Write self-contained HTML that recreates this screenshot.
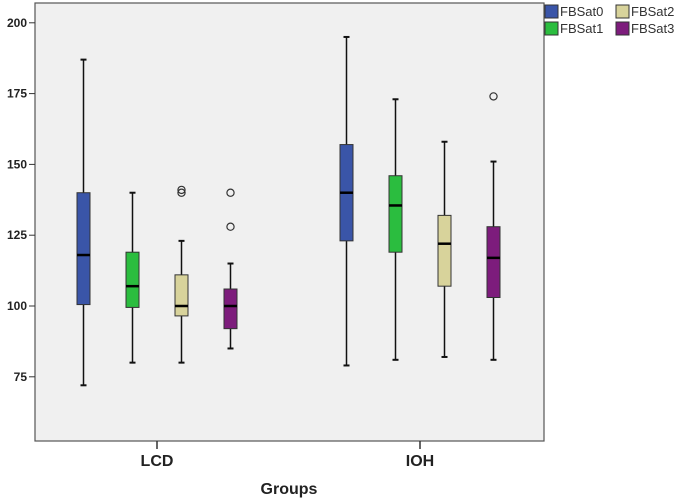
<!DOCTYPE html>
<html><head><meta charset="utf-8"><style>
html,body{margin:0;padding:0;background:#fff;}
svg{display:block;font-family:"Liberation Sans",Arial,sans-serif;}
</style></head><body>
<svg id="chart" width="685" height="498" viewBox="0 0 685 498">
<rect x="35" y="3" width="509" height="438" fill="#f0f0f0" stroke="#555" stroke-width="1.2"/>
<g id="yaxis"></g>
<g id="xaxis"></g>
<g id="boxes"></g>
<text x="289" y="494" text-anchor="middle" font-size="16" font-weight="bold" fill="#222">Groups</text>
<g>
<g><rect x="545" y="5" width="13" height="13" fill="#3a55a8" stroke="#333"/><text x="560" y="16" font-size="13" fill="#333">FBSat0</text></g>
<g><rect x="616" y="5" width="13" height="13" fill="#d8d39b" stroke="#333"/><text x="631" y="16" font-size="13" fill="#333">FBSat2</text></g>
<g><rect x="545" y="22" width="13" height="13" fill="#2bbd3f" stroke="#333"/><text x="560" y="33" font-size="13" fill="#333">FBSat1</text></g>
<g><rect x="616" y="22" width="13" height="13" fill="#7d1c7c" stroke="#333"/><text x="631" y="33" font-size="13" fill="#333">FBSat3</text></g>
</g>
</svg>
<script>
const groups = ["LCD", "IOH"];
const seriesNames = ["FBSat0", "FBSat1", "FBSat2", "FBSat3"];
const seriesColors = ["#3a55a8", "#2bbd3f", "#d8d39b", "#7d1c7c"];
const yTicks = [75, 100, 125, 150, 175, 200];
// [min, q1, median, q3, max] per group, per series
const lcdStats = [[72, 100.5, 118, 140, 187], [80, 99.5, 107, 119, 140], [80, 96.5, 100, 111, 123], [85, 92, 100, 106, 115]];
const iohStats = [[79, 123, 140, 157, 195], [81, 119, 135.5, 146, 173], [82, 107, 122, 132, 158], [81, 103, 117, 128, 151]];
const lcdOutliers = [[], [], [140, 141], [140, 128]];
const iohOutliers = [[], [], [], [174]];

const NS = "http://www.w3.org/2000/svg";
function y(v){ return 306 - (v - 100) * 2.832; }
function gx(i){ return 157 + i * 263; }
function sx(g, s){ return gx(g) + (s - 1.5) * 49; }
function mk(tag, attrs, parent){ const e = document.createElementNS(NS, tag); for (const k in attrs) e.setAttribute(k, attrs[k]); parent.appendChild(e); return e; }

const ya = document.getElementById("yaxis");
yTicks.forEach(t => {
  const ln = mk("line", {x1: 29, x2: 35, y1: y(t), y2: y(t), stroke: "#333"}, ya);
  
  
  const tx = mk("text", {x: 27, y: y(t) + 4, "text-anchor": "end", "font-size": 12, "font-weight": "bold", fill: "#222"}, ya);
  tx.textContent = t;
  
  
});
const xa = document.getElementById("xaxis");
groups.forEach((g, i) => {
  const ln = mk("line", {x1: gx(i), x2: gx(i), y1: 441, y2: 449, stroke: "#333", "stroke-width": 1.5}, xa);
  
  
  const tx = mk("text", {x: gx(i), y: 466, "text-anchor": "middle", "font-size": 16, "font-weight": "bold", fill: "#222"}, xa);
  tx.textContent = g;
  
  
});
const bx = document.getElementById("boxes");
const allStats = [lcdStats, iohStats];
const allOut = [lcdOutliers, iohOutliers];
allStats.forEach((gs, gi) => {
  gs.forEach((st, si) => {
    const cx = sx(gi, si), w = 13;
    const g = mk("g", {}, bx);
    
    
    mk("line", {x1: cx, x2: cx, y1: y(st[4]), y2: y(st[0]), stroke: "#111", "stroke-width": 1.5}, g);
    mk("line", {x1: cx - 3, x2: cx + 3, y1: y(st[4]), y2: y(st[4]), stroke: "#111", "stroke-width": 2}, g);
    mk("line", {x1: cx - 3, x2: cx + 3, y1: y(st[0]), y2: y(st[0]), stroke: "#111", "stroke-width": 2}, g);
    mk("rect", {x: cx - w/2, y: y(st[3]), width: w, height: y(st[1]) - y(st[3]), fill: seriesColors[si], stroke: "#333", "stroke-width": 1}, g);
    mk("line", {x1: cx - w/2, x2: cx + w/2, y1: y(st[2]), y2: y(st[2]), stroke: "#000", "stroke-width": 2.5}, g);
    allOut[gi][si].forEach(o => {
      const c = mk("circle", {cx: cx, cy: y(o), r: 3.6, fill: "none", stroke: "#333", "stroke-width": 1.2}, g);
      
      
    });
  });
});
</script>
</body></html>
